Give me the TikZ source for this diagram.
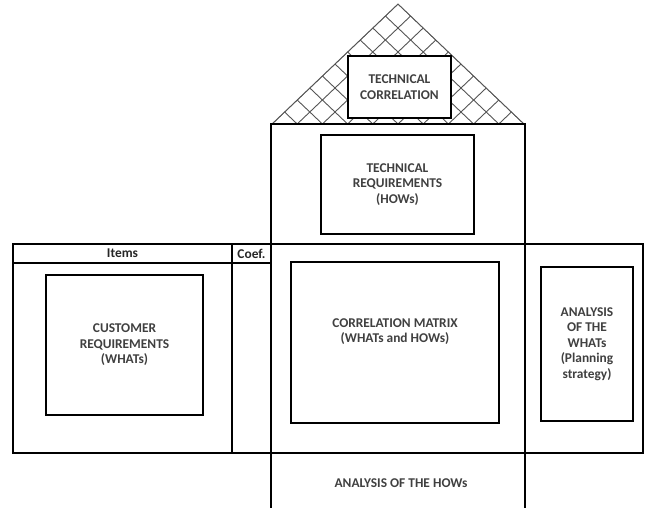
\documentclass[tikz,border=0pt]{standalone}
\usepackage{fontspec}
\setmainfont{Carlito}

\definecolor{labelgray}{HTML}{404040}
\definecolor{hatchgray}{HTML}{555555}

\begin{document}
\begin{tikzpicture}[x=1pt, y=-1pt,
  room/.style={line width=1.6pt},
  box/.style={rectangle, draw, line width=1.6pt, fill=white, align=center,
    text=labelgray, font=\fontsize{13.4}{15.4}\selectfont\bfseries},
  head/.style={font=\fontsize{13.4}{15}\selectfont\bfseries, text=black!85},
  hatch/.style={draw=hatchgray, line width=0.9pt}]

  \useasboundingbox (0,0) rectangle (646,508);

  % roof: cross hatching
  \begin{scope}
    \clip (272,124) -- (398,4) -- (524,124) -- cycle;
    \foreach \i in {0,...,10} {
      \draw[hatch] (272+25.2*\i,124) -- ++(126,-120);
      \draw[hatch] (272+25.2*\i,124) -- ++(-126,-120);
    }
  \end{scope}
  \draw[hatch] (272,124) -- (398,4) -- (524,124);

  % walls
  \draw[room] (271,508) -- (271,124) -- (525,124) -- (525,508);
  \draw[room] (13,244) rectangle (643,453);
  \draw[room] (13,263) -- (271,263);
  \draw[room] (232,244) -- (232,453);

  % header
  \node[head] (items) at (122.5,253.5) {Items};
  \node[head] (coef) at (251.5,253.5) {Coef.};

  % rooms
  \node[box, minimum width=103, minimum height=62] (techcorr) at (399.5,87)
    {TECHNICAL\\CORRELATION};
  \node[box, minimum width=153, minimum height=99] (techreq) at (397.5,184.5)
    {TECHNICAL\\REQUIREMENTS\\(HOWs)};
  \node[box, minimum width=157, minimum height=140] (custreq) at (124.5,345)
    {CUSTOMER\\REQUIREMENTS\\(WHATs)};
  \node[box, minimum width=208, minimum height=161] (corrmat) at (395,342.5)
    {CORRELATION MATRIX\\(WHATs and HOWs)\\[8pt]};
  \node[box, minimum width=92, minimum height=154] (whats) at (587,344)
    {ANALYSIS\\OF THE\\WHATs\\(Planning\\strategy)};

  \node[box, draw=none, fill=none] (hows) at (401,483) {ANALYSIS OF THE HOWs};

\end{tikzpicture}
\end{document}
